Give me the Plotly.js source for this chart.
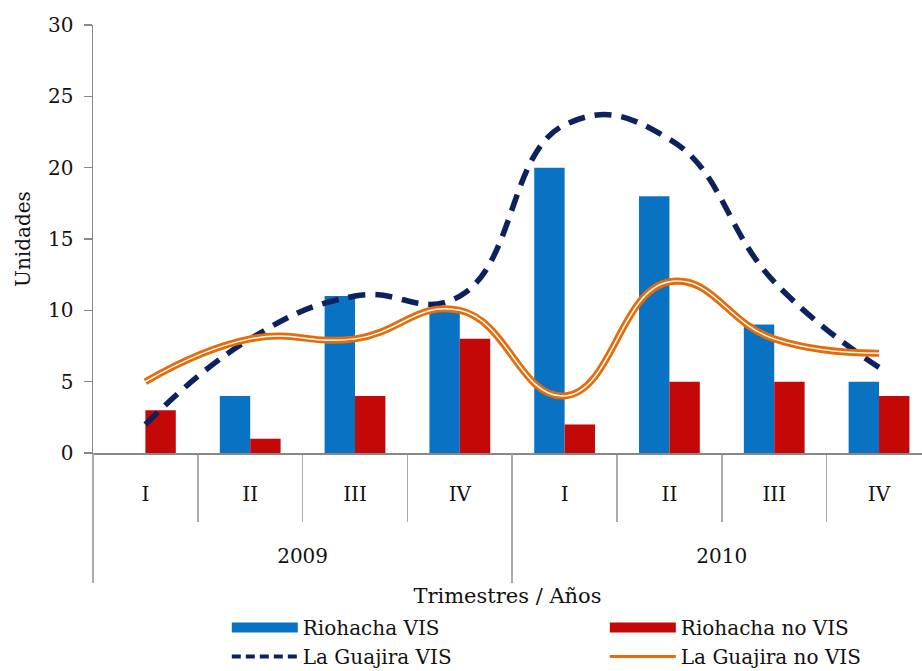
<!DOCTYPE html>
<html><head><meta charset="utf-8">
<script src="https://cdn.plot.ly/plotly-3.0.1.min.js"></script>
<style>html,body{margin:0;padding:0;background:#fff}#chart{width:922px;height:671px}</style>
</head><body><div id="chart"></div>
<script>
const years = ['2009','2009','2009','2009','2010','2010','2010','2010'];
const quarters = ['I','II','III','IV','I','II','III','IV'];
const riohachaVIS = [0, 4, 11, 10, 20, 18, 9, 5];
const riohachaNoVIS = [3, 1, 4, 8, 2, 5, 5, 4];
const guajiraVIS = [2, 8, 11, 11, 23, 22, 12, 6];
const guajiraNoVIS = [5, 8, 8, 10, 4, 12, 8, 7];

const F = 'DejaVu Serif, serif';
const idx = quarters.map((_, i) => i);
const qBounds = idx.map(i => i - 0.5);
const uniqYears = [...new Set(years)];
const yearCenters = uniqYears.map(y => {
  const ii = idx.filter(i => years[i] === y);
  return (ii[0] + ii[ii.length - 1]) / 2;
});
const yearBounds = uniqYears.map(y => years.indexOf(y) - 0.5);
// the reference crops the last category slightly at the right edge
const xRange = [-0.5, quarters.length - 0.59];

const blue = '#0A72C2', red = '#C40808', navy = '#0B2160', orange = '#E46C0A';

const traces = [
  {type:'bar', x:idx, y:riohachaVIS, name:'Riohacha VIS', showlegend:false,
   marker:{color:blue, line:{width:0}}},
  {type:'bar', x:idx, y:riohachaNoVIS, name:'Riohacha no VIS', showlegend:false,
   marker:{color:red, line:{width:0}}},
  {type:'scatter', mode:'lines', x:idx, y:guajiraVIS, name:'La Guajira VIS', showlegend:false,
   line:{color:navy, width:5.5, dash:'17px,10px', shape:'spline', smoothing:1.3}},
  {type:'scatter', mode:'lines', x:idx, y:guajiraNoVIS, name:'La Guajira no VIS', showlegend:false,
   line:{color:orange, width:7, shape:'spline', smoothing:1.3}},
  {type:'scatter', mode:'lines', x:idx, y:guajiraNoVIS, name:'La Guajira no VIS', showlegend:false, hoverinfo:'skip',
   line:{color:'#ffffff', width:1.5, shape:'spline', smoothing:1.3}},
  {type:'scatter', mode:'lines', x:[], y:[], xaxis:'x2', showlegend:false},
  // legend entries
  {type:'scatter', mode:'lines', x:[null], y:[null], name:'Riohacha VIS', legend:'legend', line:{color:blue, width:14}},
  {type:'scatter', mode:'lines', x:[null], y:[null], name:'La Guajira VIS', legend:'legend', line:{color:navy, width:4, dash:'9px,5px'}},
  {type:'scatter', mode:'lines', x:[null], y:[null], name:'Riohacha no VIS', legend:'legend2', line:{color:red, width:14}},
  {type:'scatter', mode:'lines', x:[null], y:[null], name:'La Guajira no VIS', legend:'legend2', line:{color:orange, width:3}}
];

const legendCommon = {orientation:'h', xref:'container', yref:'container', y:0.094,
  xanchor:'left', yanchor:'top', itemwidth:66, entrywidth:420, entrywidthmode:'pixels',
  traceorder:'normal', font:{family:F, size:20, color:'#111'}, bgcolor:'rgba(0,0,0,0)'};

const layout = {
  width:922, height:671,
  margin:{l:93, r:0, t:25, b:218},
  paper_bgcolor:'#fff', plot_bgcolor:'#fff',
  font:{family:F, size:20, color:'#111'},
  barmode:'group', bargap:0.42, bargroupgap:0,
  xaxis:{type:'linear', range:xRange, showgrid:false, zeroline:false,
    showline:true, linecolor:'#888', linewidth:1.5,
    tickmode:'array', tickvals:idx, ticktext:quarters, ticks:'',
    ticklabelstandoff:22,
    minor:{tickmode:'array', tickvals:qBounds, ticks:'outside', ticklen:67, tickcolor:'#aaa', tickwidth:1.5},
    tickfont:{family:F, size:20, color:'#111'}},
  xaxis2:{type:'linear', overlaying:'x', anchor:'y', side:'bottom', range:xRange,
    showgrid:false, zeroline:false, showline:false,
    tickmode:'array', tickvals:yearCenters, ticktext:uniqYears, ticks:'',
    ticklabelstandoff:89,
    minor:{tickmode:'array', tickvals:yearBounds, ticks:'outside', ticklen:129, tickcolor:'#aaa', tickwidth:1.5},
    tickfont:{family:F, size:20, color:'#111'},
    title:{text:'Trimestres / Años', font:{family:F, size:21, color:'#111'}, standoff:26}},
  yaxis:{range:[0,30], dtick:5, showgrid:false, zeroline:false, showline:true,
    linecolor:'#888', linewidth:1.5, ticks:'outside', ticklen:8, tickcolor:'#888', tickwidth:1.5,
    ticklabelstandoff:6,
    tickfont:{family:F, size:20, color:'#111'},
    title:{text:'Unidades', font:{family:F, size:20, color:'#111'}, standoff:12}},
  legend:Object.assign({}, legendCommon, {x:0.246}),
  legend2:Object.assign({}, legendCommon, {x:0.656}),
  showlegend:true
};
Plotly.newPlot('chart', traces, layout, {displayModeBar:false, staticPlot:true});
</script></body></html>
